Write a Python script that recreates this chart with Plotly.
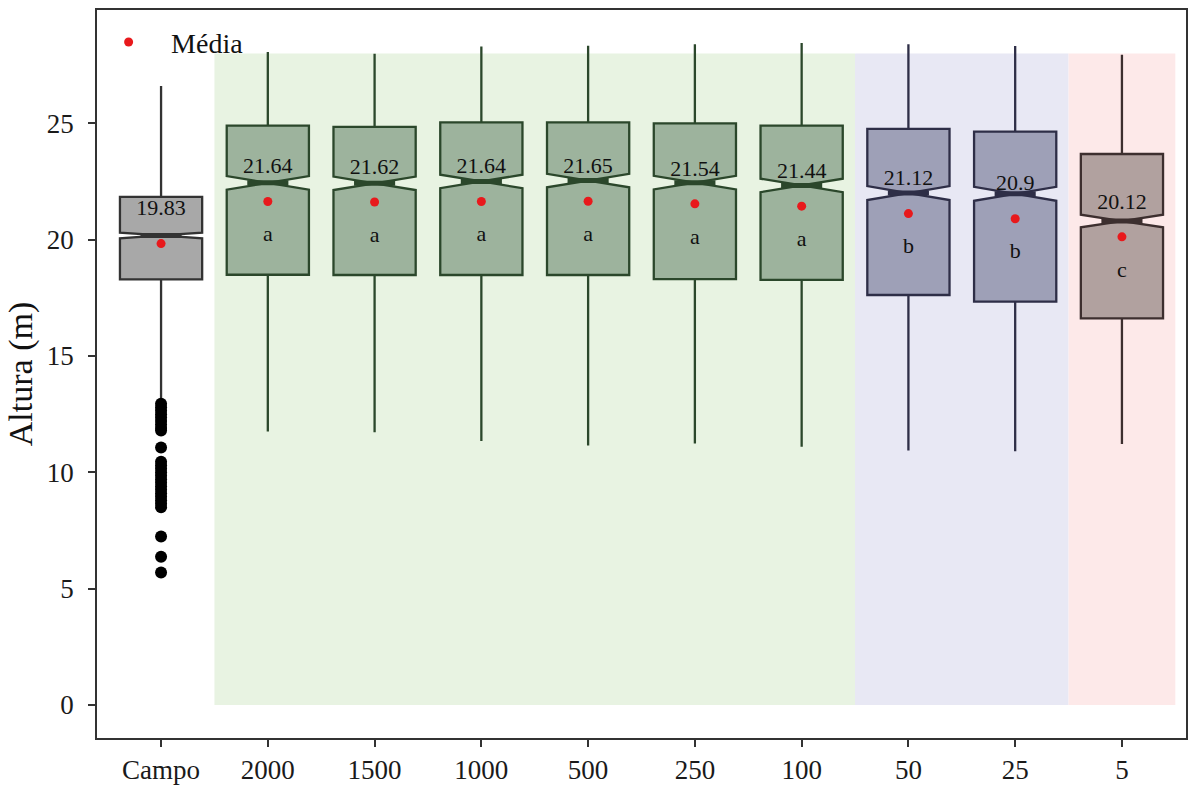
import plotly.graph_objects as go

# Tree height (m) per sampling intensity
categories = ["Campo", "2000", "1500", "1000", "500", "250", "100", "50", "25", "5"]
q1 = [18.29, 18.49, 18.48, 18.48, 18.48, 18.30, 18.27, 17.62, 17.34, 16.62]
median = [20.18, 22.44, 22.42, 22.50, 22.54, 22.45, 22.33, 22.00, 21.97, 20.80]
q3 = [21.84, 24.90, 24.85, 25.04, 25.04, 25.00, 24.90, 24.76, 24.64, 23.68]
lower_whisker = [13.15, 11.75, 11.72, 11.35, 11.15, 11.24, 11.10, 10.94, 10.90, 11.22]
upper_whisker = [26.60, 28.06, 27.99, 28.30, 28.33, 28.40, 28.45, 28.40, 28.32, 27.95]
notch_half = [0.12, 0.29, 0.29, 0.29, 0.29, 0.29, 0.29, 0.30, 0.30, 0.27]
means = [19.83, 21.64, 21.62, 21.64, 21.65, 21.54, 21.44, 21.12, 20.9, 20.12]
letters = ["", "a", "a", "a", "a", "a", "a", "b", "b", "c"]
groups = ["campo", "g1", "g1", "g1", "g1", "g1", "g1", "g2", "g2", "g3"]

# Field outliers below the lower whisker
campo_outliers = [12.95, 12.8, 12.65, 12.5, 12.35, 12.2, 12.05, 11.9, 11.8,
                  11.07, 10.45, 10.3, 10.15, 10.0, 9.85, 9.7, 9.55, 9.4,
                  9.25, 9.1, 8.95, 8.8, 8.65, 8.5, 7.24, 6.37, 5.69]

# Shaded group bands: (start, end, top, colour)
bands = [(0.5, 6.5, 28.0, "#e8f3e2"), (6.5, 8.5, 28.0, "#e8e8f4"), (8.5, 9.5, 28.0, "#fde9e9")]

fills = {"campo": "#a8a8a8", "g1": "#9db39d", "g2": "#9ea0b7", "g3": "#b1a19f"}
edges = {"campo": "#333333", "g1": "#2b472b", "g2": "#2e2e47", "g3": "#3d2f2f"}

BOX_W = 0.77
NOTCH_W = 0.5
FONT = "Liberation Serif"

fig = go.Figure()

for i, cat in enumerate(categories):
    g = groups[i]
    fig.add_trace(go.Box(
        x=[i], q1=[q1[i]], median=[median[i]], q3=[q3[i]],
        lowerfence=[lower_whisker[i]], upperfence=[upper_whisker[i]],
        notchspan=[notch_half[i]], notched=True, notchwidth=NOTCH_W,
        width=BOX_W, whiskerwidth=0, boxpoints=False,
        fillcolor=fills[g], line=dict(color=edges[g], width=2.3),
        showlegend=False, hoverinfo="skip",
    ))
    # thick median bar across the notch waist
    half = BOX_W * NOTCH_W / 2
    fig.add_trace(go.Scatter(
        x=[i - half, i + half], y=[median[i], median[i]], mode="lines",
        line=dict(color=edges[g], width=5), showlegend=False, hoverinfo="skip",
    ))

fig.add_trace(go.Scatter(
    x=[0] * len(campo_outliers), y=campo_outliers, mode="markers",
    marker=dict(color="black", size=12), showlegend=False, hoverinfo="skip",
))

xs = list(range(len(categories)))
fig.add_trace(go.Scatter(
    x=xs, y=means, mode="markers", name="Média",
    marker=dict(color="#e8191c", size=9),
))
fig.add_trace(go.Scatter(
    x=xs, y=[m + 1.45 for m in means], mode="text",
    text=[str(m) for m in means], textfont=dict(family=FONT, size=22, color="#111111"),
    showlegend=False, hoverinfo="skip",
))
fig.add_trace(go.Scatter(
    x=xs, y=[m - 1.47 for m in means], mode="text",
    text=letters, textfont=dict(family=FONT, size=22, color="#111111"),
    showlegend=False, hoverinfo="skip",
))

for x0, x1, top, col in bands:
    fig.add_shape(type="rect", xref="x", yref="y", x0=x0, x1=x1, y0=0, y1=top,
                  fillcolor=col, line=dict(width=0), layer="below")

axis_common = dict(
    showline=True, mirror=True, linecolor="#333333", linewidth=1.5,
    ticks="outside", ticklen=7, tickwidth=1.5, tickcolor="#333333",
    showgrid=False, zeroline=False,
    tickfont=dict(family=FONT, size=27, color="#1a1a1a"),
)

fig.update_layout(
    width=1190, height=787,
    margin=dict(l=97, r=2, t=10, b=45),
    paper_bgcolor="white", plot_bgcolor="white",
    font=dict(family=FONT),
    xaxis=dict(range=[-0.6, 9.6], tickvals=xs, ticktext=categories, **axis_common),
    yaxis=dict(range=[-1.42, 29.87], tickvals=[0, 5, 10, 15, 20, 25],
               ticklabelstandoff=9,
               title=dict(text="Altura (m)", font=dict(family=FONT, size=34, color="#111111"),
                          standoff=4),
               **axis_common),
    legend=dict(x=-0.01, y=0.99, xanchor="left", yanchor="top", itemwidth=75,
                bgcolor="rgba(0,0,0,0)", font=dict(family=FONT, size=28, color="#111111")),
)

fig.write_html("out.html")
